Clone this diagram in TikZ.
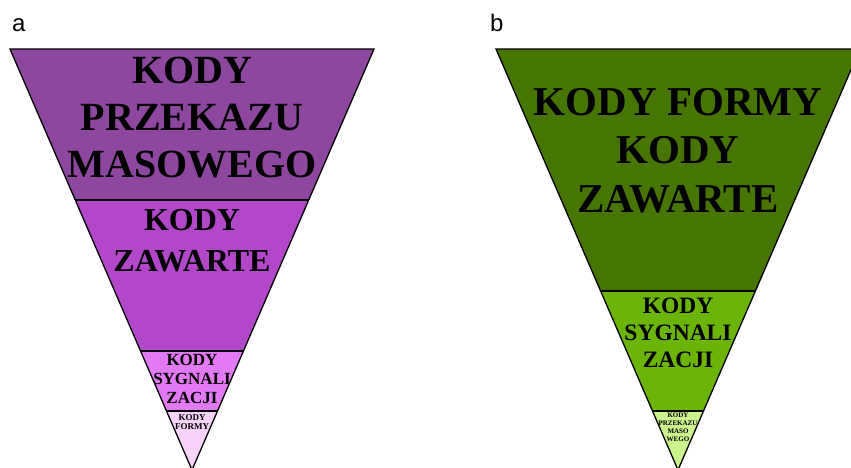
\documentclass[tikz,border=0pt]{standalone}
\usepackage{fontspec}
\setmainfont{Liberation Serif}
\newfontfamily\panelfont{Liberation Sans}
\definecolor{kodpurple}{HTML}{8E479E}
\definecolor{kodviolet}{HTML}{B347C9}
\definecolor{kodpink}{HTML}{E17AF3}
\definecolor{kodlilac}{HTML}{F6D3F9}
\definecolor{koddark}{HTML}{467504}
\definecolor{kodgreen}{HTML}{6CB407}
\definecolor{kodlime}{HTML}{CBF28C}
\newcommand{\kodsize}[2]{\fontsize{#1}{#2}\selectfont}

\begin{document}
\begin{tikzpicture}[
  x=1pt,y=-1pt,
  edge/.style={draw=black,line width=1.3pt,line join=miter},
  kod/.style={font=\bfseries,align=center,inner sep=0pt,anchor=base},
  panel/.style={font=\panelfont\kodsize{24}{24},inner sep=0pt,anchor=base west}
]
\useasboundingbox (0,0) rectangle (851,468);
\clip (0,0) rectangle (851,468);

% panel a
\node[panel] (alabel) at (12,32) {a};
\coordinate (aTL) at (10,49);
\coordinate (aTR) at (374,49);
\coordinate (aTip) at (192,470);
\begin{scope}
  \clip (aTL) -- (aTR) -- (aTip) -- cycle;
  \fill[kodpurple] (0,49) rectangle (400,200);
  \fill[kodviolet] (0,200) rectangle (400,351);
  \fill[kodpink] (0,351) rectangle (400,411);
  \fill[kodlilac] (0,411) rectangle (400,470);
  \draw[edge] (0,200) -- (400,200);
  \draw[edge] (0,351) -- (400,351);
  \draw[edge] (0,411) -- (400,411);
\end{scope}
\draw[edge] (aTL) -- (aTR) -- (aTip) -- cycle;
% base anchor sits on the last line
\node[kod,font=\bfseries\kodsize{40}{47}] (amass) at (192,177) {KODY\\PRZEKAZU\\MASOWEGO};
\node[kod,font=\bfseries\kodsize{32}{41}] (acontent) at (192,271) {KODY\\ZAWARTE};
\node[kod,font=\bfseries\kodsize{17}{19}] (asignal) at (192,403) {KODY\\SYGNALI\\ZACJI};
\node[kod,font=\bfseries\kodsize{9}{9}] (aform) at (192,429) {KODY\\FORMY};

% panel b
\node[panel] (blabel) at (490,32) {b};
\coordinate (bTL) at (496,49);
\coordinate (bTR) at (860,49);
\coordinate (bTip) at (678,470);
\begin{scope}
  \clip (bTL) -- (bTR) -- (bTip) -- cycle;
  \fill[koddark] (480,49) rectangle (870,291);
  \fill[kodgreen] (480,291) rectangle (870,411);
  \fill[kodlime] (480,411) rectangle (870,470);
  \draw[edge] (480,291) -- (870,291);
  \draw[edge] (480,411) -- (870,411);
\end{scope}
\draw[edge] (bTL) -- (bTR) -- (bTip) -- cycle;
\node[kod,font=\bfseries\kodsize{41}{48.5}] (bform) at (678,212) {KODY FORMY\\KODY\\ZAWARTE};
\node[kod,font=\bfseries\kodsize{23.5}{27}] (bsignal) at (678,367) {KODY\\SYGNALI\\ZACJI};
\node[kod,font=\bfseries\kodsize{7}{8}] (bmass) at (678,441) {KODY\\PRZEKAZU\\MASO\\WEGO};
\end{tikzpicture}
\end{document}
